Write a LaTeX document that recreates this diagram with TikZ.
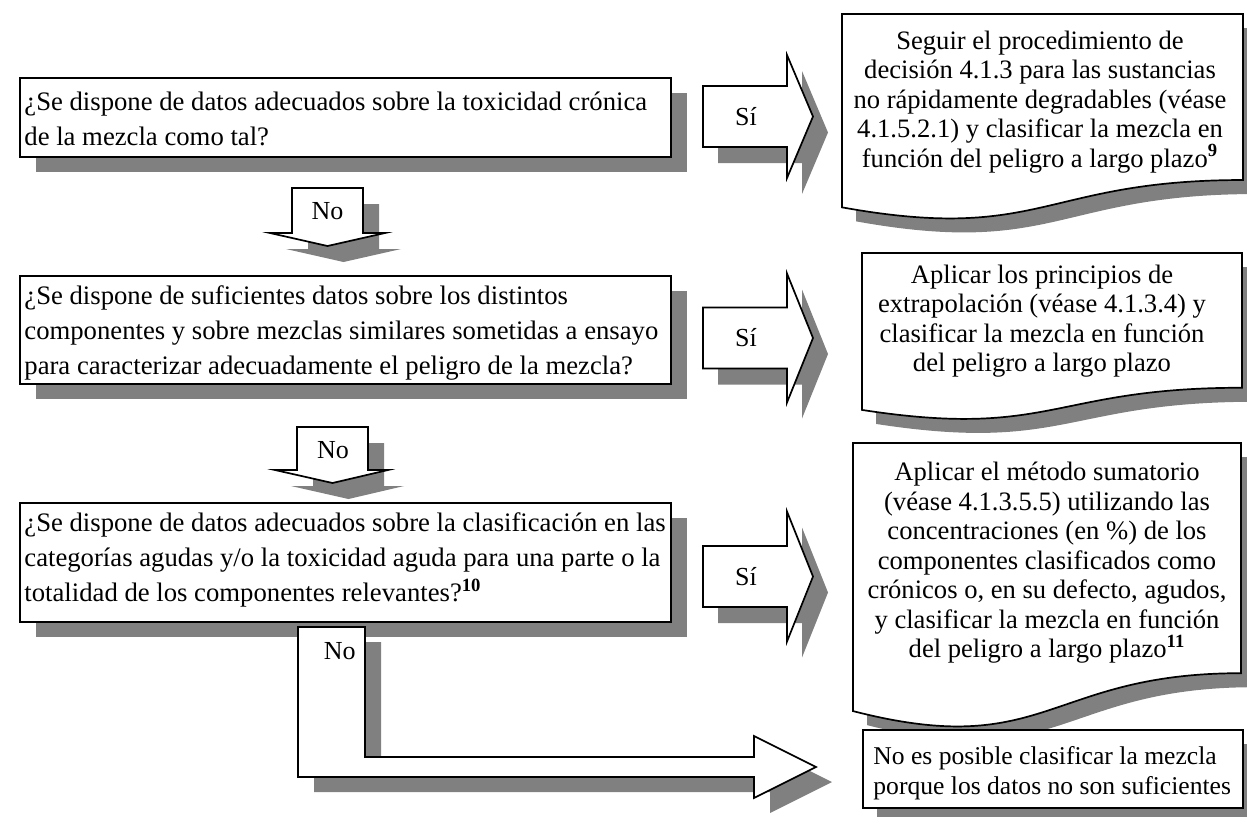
\documentclass[tikz,border=0pt]{standalone}
\usepackage{fontspec}
\setmainfont{Liberation Serif}
\definecolor{shadegray}{HTML}{808080}
\tikzset{
  outline/.style={draw=black, line width=0.85pt, fill=white, line join=miter},
  shadowfill/.style={fill=shadegray, draw=none},
  ltxt/.style={align=left, inner sep=0pt, font=\fontsize{13.35}{17.5}\selectfont},
  rtxt/.style={align=center, inner sep=0pt, font=\fontsize{13.3}{14.75}\selectfont},
  ntxt/.style={align=left, inner sep=0pt, font=\fontsize{12.8}{15}\selectfont},
  lbl/.style={inner sep=0pt, font=\fontsize{13}{15}\selectfont},
}
\newcommand{\rarrowpath}[3]{(703,#1-30.5) -- (787,#1-30.5) -- (787,#1-#2) -- (813,#1) -- (787,#1+#3) -- (787,#1+30.5) -- (703,#1+30.5) -- cycle}
\newcommand{\docpath}[4]{(#1,#3) -- (#2,#3) -- (#2,#3+0.802*#4) .. controls ({#1+0.5*(#2-#1)},#3+0.802*#4) and ({#1+0.5*(#2-#1)},#3+1.108*#4) .. (#1,#3+0.934*#4) -- cycle}
\begin{document}
\begin{tikzpicture}[x=0.5pt,y=-0.5pt]
\useasboundingbox (0,0) rectangle (1247,816);
\clip (0,0) rectangle (1247,816);

% ---------- left question boxes ----------
\fill[shadowfill] (36,93) rectangle (687,172);
\draw[outline] (20,78) rectangle (671,157);
\node[ltxt, anchor=west] (q1) at (24,119) {¿Se dispone de datos adecuados sobre la toxicidad crónica\\de la mezcla como tal?};

\fill[shadowfill] (36,291) rectangle (687,399);
\draw[outline] (20,276) rectangle (671,384);
\node[ltxt, anchor=west] (q2) at (24,333) {¿Se dispone de suficientes datos sobre los distintos\\componentes y sobre mezclas similares sometidas a ensayo\\para caracterizar adecuadamente el peligro de la mezcla?};

\fill[shadowfill] (36,518) rectangle (687,637);
\draw[outline] (20,503) rectangle (671,622);
\node[ltxt, anchor=west] (q3) at (24,560) {¿Se dispone de datos adecuados sobre la clasificación en las\\categorías agudas y/o la toxicidad aguda para una parte o la\\totalidad de los componentes relevantes?\textsuperscript{\textbf{10}}};

% ---------- No arrows (down) ----------
\fill[shadowfill, shift={(16,16)}] (292,188) -- (363,188) -- (363,233) -- (385,233) -- (327.5,246) -- (270,233) -- (292,233) -- cycle;
\draw[outline] (292,188) -- (363,188) -- (363,233) -- (385,233) -- (327.5,246) -- (270,233) -- (292,233) -- cycle;
\node[lbl] (n1) at (327.5,211) {No};

\fill[shadowfill, shift={(16,16)}] (297,427) -- (368,427) -- (368,470) -- (388,470) -- (332.5,483) -- (275,470) -- (297,470) -- cycle;
\draw[outline] (297,427) -- (368,427) -- (368,470) -- (388,470) -- (332.5,483) -- (275,470) -- (297,470) -- cycle;
\node[lbl] (n2) at (333,450) {No};

% ---------- L-shaped No arrow ----------
\fill[shadowfill, shift={(16,15)}] (298,627) -- (365,627) -- (365,757) -- (754,757) -- (754,736) -- (816,767) -- (754,798) -- (754,777) -- (298,777) -- cycle;
\draw[outline] (298,627) -- (365,627) -- (365,757) -- (754,757) -- (754,736) -- (816,767) -- (754,798) -- (754,777) -- (298,777) -- cycle;
\node[lbl, anchor=east] (n3) at (356,651) {No};

% ---------- Si arrows ----------
\fill[shadowfill, shift={(15,16)}] \rarrowpath{116.5}{61.5}{61.5};
\draw[outline] \rarrowpath{116.5}{61.5}{61.5};
\node[lbl] (y1) at (746,117) {Sí};

\fill[shadowfill, shift={(15,16)}] \rarrowpath{338}{64.5}{64.5};
\draw[outline] \rarrowpath{338}{64.5}{64.5};
\node[lbl] (y2) at (746,338) {Sí};

\fill[shadowfill, shift={(15,16)}] \rarrowpath{576.5}{65}{65};
\draw[outline] \rarrowpath{576.5}{65}{65};
\node[lbl] (y3) at (746,576.5) {Sí};

% ---------- result documents ----------
\fill[shadowfill, shift={(14,14)}] \docpath{842}{1243}{14}{207};
\draw[outline] \docpath{842}{1243}{14}{207};
\node[rtxt] (r1) at (1040,102) {Seguir el procedimiento de\\decisión 4.1.3 para las sustancias\\no rápidamente degradables (véase\\4.1.5.2.1) y clasificar la mezcla en\\función del peligro a largo plazo\textsuperscript{\textbf{9}}};

\fill[shadowfill, shift={(14,14)}] \docpath{862}{1242}{253}{168};
\draw[outline] \docpath{862}{1242}{253}{168};
\node[rtxt] (r2) at (1042,321) {Aplicar los principios de\\extrapolación (véase 4.1.3.4) y\\clasificar la mezcla en función\\del peligro a largo plazo};

\fill[shadowfill, shift={(14,14)}] \docpath{853}{1241}{443}{287};
\draw[outline] \docpath{853}{1241}{443}{287};
\node[rtxt] (r3) at (1047,563) {Aplicar el método sumatorio\\(véase 4.1.3.5.5) utilizando las\\concentraciones (en \%) de los\\componentes clasificados como\\crónicos o, en su defecto, agudos,\\y clasificar la mezcla en función\\del peligro a largo plazo\textsuperscript{\textbf{11}}};

\fill[shadowfill] (877,744) rectangle (1257,822);
\draw[outline] (863,730) rectangle (1243,808);
\node[ntxt, anchor=west] (r4) at (873,773) {No es posible clasificar la mezcla\\porque los datos no son suficientes};
\end{tikzpicture}
\end{document}
